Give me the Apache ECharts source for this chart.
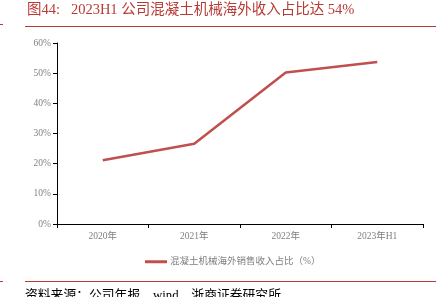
<!DOCTYPE html>
<html><head><meta charset="utf-8">
<script src="https://cdn.jsdelivr.net/npm/echarts@6/dist/echarts.min.js"></script>
<style>html,body{margin:0;padding:0;background:#fff}#c{width:442px;height:297px}</style>
</head><body><div id="c"></div>
<script>
const categories = ['2020年', '2021年', '2022年', '2023年H1'];
const shareValues = [21.1, 26.6, 50.2, 53.7];
const yTicks = [0, 10, 20, 30, 40, 50, 60];
const seriesName = '混凝土机械海外销售收入占比（%）';
const titleText = '图44:   2023H1 公司混凝土机械海外收入占比达 54%';
const sourceText = '资料来源：公司年报，wind，浙商证券研究所';

const serif = '"Liberation Serif","Noto Sans CJK SC",serif';
const chart = echarts.init(document.getElementById('c'), null, {renderer: 'canvas'});
chart.setOption({
  animation: false,
  backgroundColor: '#fff',
  grid: {left: 57, right: 19, top: 43, bottom: 73, containLabel: false},
  legend: {
    data: [seriesName], left: 140, top: 252, itemWidth: 22, itemHeight: 3, itemGap: 0,
    icon: 'rect',
    textStyle: {color: '#7f7f7f', fontFamily: serif, fontSize: 9.5, padding: [0,0,0,-2]}
  },
  xAxis: {
    type: 'category', data: categories, boundaryGap: true,
    axisLine: {lineStyle: {color: '#000', width: 1}},
    axisTick: {show: true, length: 4, lineStyle: {color: '#000'}},
    axisLabel: {color: '#7f7f7f', fontFamily: serif, fontSize: 9.5, margin: 8}
  },
  yAxis: {
    type: 'value', min: yTicks[0], max: yTicks[yTicks.length - 1], interval: 10,
    axisLine: {show: true, lineStyle: {color: '#000', width: 1}},
    axisTick: {show: true, length: 4, lineStyle: {color: '#000'}},
    splitLine: {show: false},
    axisLabel: {color: '#7f7f7f', fontFamily: serif, fontSize: 9.5, margin: 6, formatter: v => v + '%'}
  },
  series: [{
    name: seriesName, type: 'line', data: shareValues,
    symbol: 'none', lineStyle: {color: '#c0504d', width: 2.5}, itemStyle: {color: '#c0504d'}
  }],
  graphic: [
    {type: 'text', left: 27, top: 3, style: {text: titleText, fill: '#b83a34', font: '14.5px ' + serif}},
    {type: 'line', shape: {x1: 25, y1: 26.5, x2: 436, y2: 26.5}, style: {stroke: '#b83a34', lineWidth: 1}},
    {type: 'line', shape: {x1: 0, y1: 24.5, x2: 3, y2: 24.5}, style: {stroke: '#b83a34', lineWidth: 1}},
    {type: 'line', shape: {x1: 25, y1: 281.5, x2: 436, y2: 281.5}, style: {stroke: '#b83a34', lineWidth: 1}},
    {type: 'line', shape: {x1: 0, y1: 281.5, x2: 3, y2: 281.5}, style: {stroke: '#b83a34', lineWidth: 1}},
    {type: 'text', left: 25, top: 289, style: {text: sourceText, fill: '#000', font: '12.8px ' + serif}}
  ]
});
</script></body></html>
